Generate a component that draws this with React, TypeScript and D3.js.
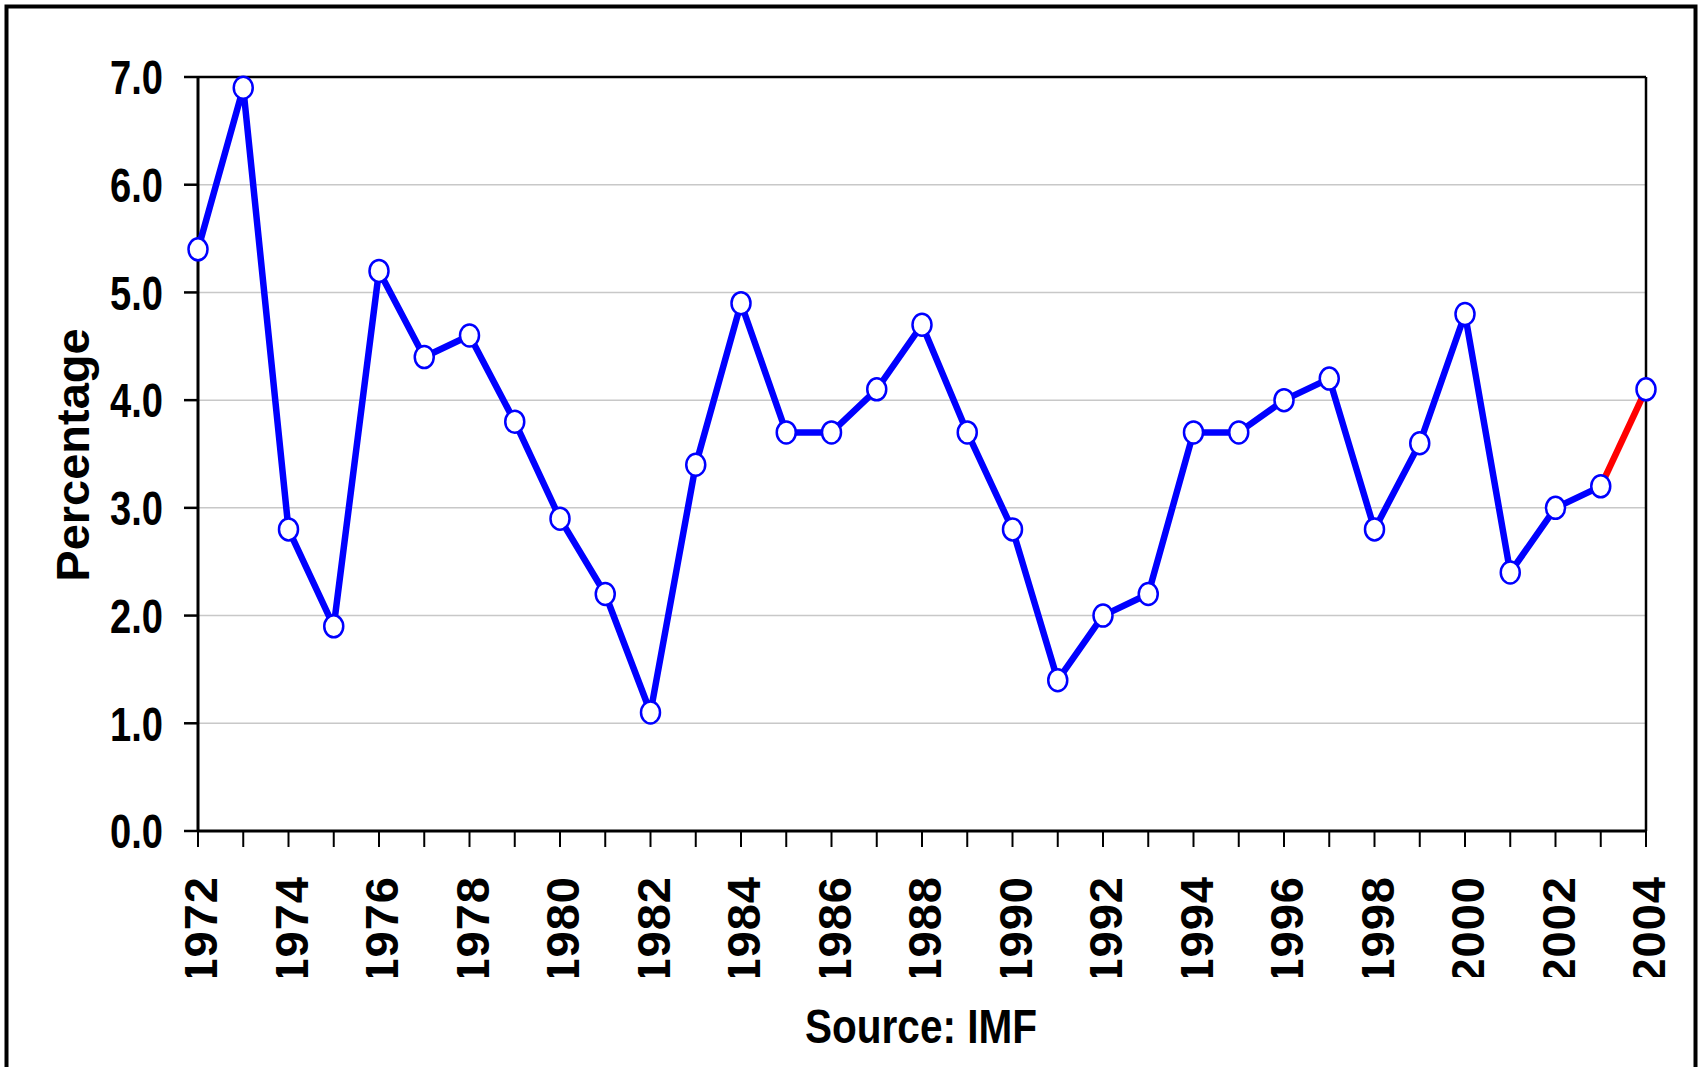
import React from 'react';
import * as d3 from 'd3';

// annual values
const years = [
  1972, 1973, 1974, 1975, 1976, 1977, 1978, 1979, 1980, 1981, 1982,
  1983, 1984, 1985, 1986, 1987, 1988, 1989, 1990, 1991, 1992, 1993,
  1994, 1995, 1996, 1997, 1998, 1999, 2000, 2001, 2002, 2003, 2004,
];
const values = [
  5.4, 6.9, 2.8, 1.9, 5.2, 4.4, 4.6, 3.8, 2.9, 2.2, 1.1,
  3.4, 4.9, 3.7, 3.7, 4.1, 4.7, 3.7, 2.8, 1.4, 2.0, 2.2,
  3.7, 3.7, 4.0, 4.2, 2.8, 3.6, 4.8, 2.4, 3.0, 3.2, 4.1,
];
const yTicks = [0, 1, 2, 3, 4, 5, 6, 7];
const xLabelYears = years.filter(y => (y - 1972) % 2 === 0);
// last segment (projection) drawn in red
const projectedFrom = 2003;

const W = 1698;
const H = 1067;
const plot = { left: 198, right: 1646, top: 77, bottom: 831 };

// no narrow font installed, so labels are squeezed with textLength
const font = '"Liberation Sans", Arial, sans-serif';

const App = () => {
  const x = d3.scaleLinear().domain([1972, 2004]).range([plot.left, plot.right]);
  const y = d3.scaleLinear().domain([0, 7]).range([plot.bottom, plot.top]);

  const pts = years.map((yr, i) => ({ yr, v: values[i] }));
  const line = d3.line<{ yr: number; v: number }>()
    .x(d => x(d.yr))
    .y(d => y(d.v));

  const actual = pts.filter(d => d.yr <= projectedFrom);
  const projected = pts.filter(d => d.yr >= projectedFrom);

  return (
    <svg
      width={W}
      height={H}
      style={{ position: 'absolute', left: 0, top: 0, background: '#fff' }}
    >
      <defs>
        <clipPath id="xlab">
          <rect x={0} y={0} width={W} height={977} />
        </clipPath>
      </defs>

      {/* outer frame */}
      <rect x={6.5} y={6.5} width={1689} height={1100} fill="none" stroke="#000" strokeWidth={4} />

      {/* grid */}
      {yTicks.filter(t => t > 0 && t < 7).map(t => (
        <line key={t} x1={plot.left} x2={plot.right} y1={y(t)} y2={y(t)} stroke="#c8c8c8" strokeWidth={1.5} />
      ))}

      {/* plot frame */}
      <line x1={plot.left} x2={plot.right} y1={plot.top} y2={plot.top} stroke="#000" strokeWidth={2.5} />
      <line x1={plot.right} x2={plot.right} y1={plot.top} y2={plot.bottom} stroke="#000" strokeWidth={2.5} />
      <line x1={plot.left} x2={plot.left} y1={plot.top} y2={plot.bottom} stroke="#000" strokeWidth={3} />
      <line x1={plot.left} x2={plot.right} y1={plot.bottom} y2={plot.bottom} stroke="#000" strokeWidth={3} />

      {/* y axis ticks + labels */}
      {yTicks.map(t => (
        <g key={t}>
          <line x1={plot.left - 14} x2={plot.left} y1={y(t)} y2={y(t)} stroke="#000" strokeWidth={2.5} />
          <text
            x={110}
            y={y(t)}
            dy="0.36em"
            textLength={53}
            lengthAdjust="spacingAndGlyphs"
            fontFamily={font}
            fontWeight="bold"
            fontSize={48}
          >
            {t.toFixed(1)}
          </text>
        </g>
      ))}

      {/* x axis ticks */}
      {years.map(yr => (
        <line key={yr} x1={x(yr)} x2={x(yr)} y1={plot.bottom} y2={plot.bottom + 16} stroke="#000" strokeWidth={2} />
      ))}
      <g clipPath="url(#xlab)">
        {xLabelYears.map(yr => (
          <text
            key={yr}
            transform={`translate(${x(yr) + 19},876) rotate(-90)`}
            textAnchor="end"
            fontFamily={font}
            fontWeight="bold"
            fontSize={47}
            letterSpacing={1}
          >
            {yr}
          </text>
        ))}
      </g>

      {/* axis titles */}
      <text
        transform={`translate(89,455) rotate(-90)`}
        textAnchor="middle"
        fontFamily={font}
        fontWeight="bold"
        fontSize={47}
      >
        Percentage
      </text>
      <text
        x={805}
        y={1043}
        textLength={232}
        lengthAdjust="spacingAndGlyphs"
        fontFamily={font}
        fontWeight="bold"
        fontSize={48}
      >
        Source: IMF
      </text>

      {/* series */}
      <path d={line(projected) ?? ''} fill="none" stroke="#ff0000" strokeWidth={6.5} />
      <path d={line(actual) ?? ''} fill="none" stroke="#0000ff" strokeWidth={6.5} strokeLinejoin="round" />
      {pts.map(d => (
        <ellipse
          key={d.yr}
          cx={x(d.yr)}
          cy={y(d.v)}
          rx={9.5}
          ry={11}
          fill="#fff"
          stroke="#0000ff"
          strokeWidth={2.5}
        />
      ))}
    </svg>
  );
};

export default App;
